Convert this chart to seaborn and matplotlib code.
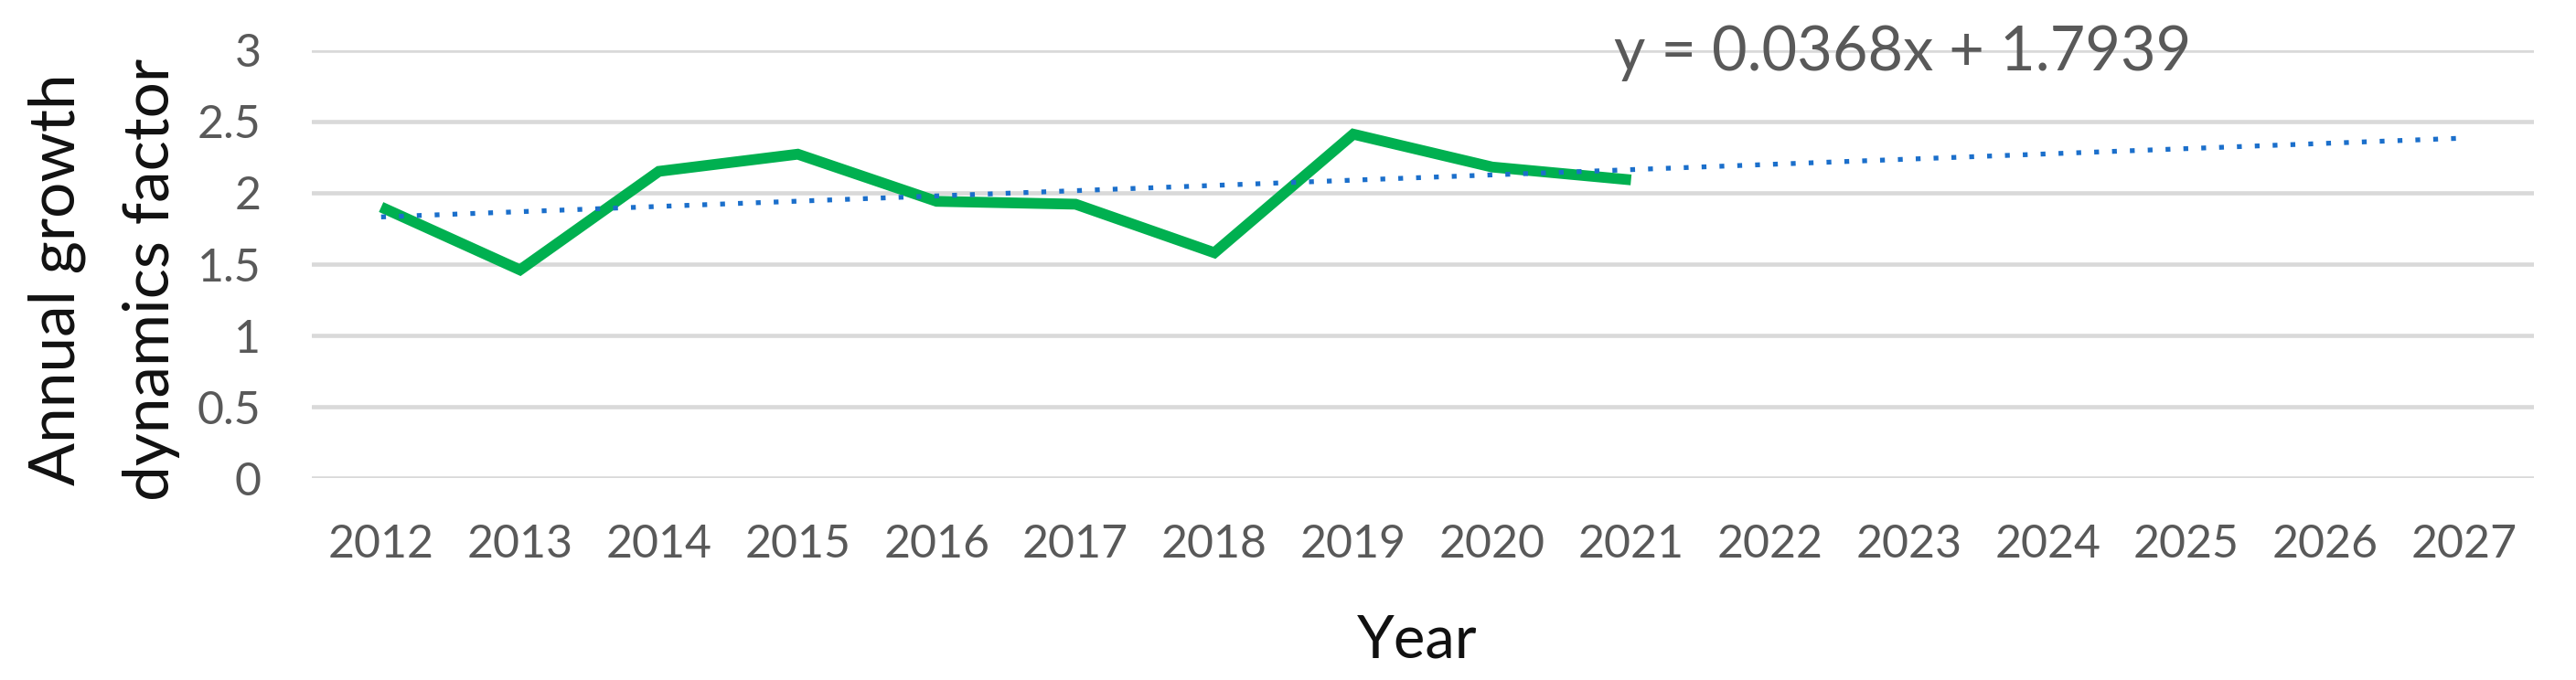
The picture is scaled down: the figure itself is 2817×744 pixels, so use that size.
import matplotlib
matplotlib.use("Agg")
import matplotlib.pyplot as plt
import numpy as np
import pandas as pd
import seaborn as sns

years_obs = [2012, 2013, 2014, 2015, 2016, 2017, 2018, 2019, 2020, 2021]
growth = [1.90, 1.46, 2.15, 2.27, 1.94, 1.92, 1.58, 2.41, 2.18, 2.09]

# linear trend shown on the chart, extended to 2027
years_all = list(range(2012, 2028))
slope = 0.0368
intercept = 1.7939
trend_label = "y = 0.0368x + 1.7939"

y_ticks = [0, 0.5, 1, 1.5, 2, 2.5, 3]
y_ticklabels = ["0", "0.5", "1", "1.5", "2", "2.5", "3"]

obs_df = pd.DataFrame({"year": years_obs, "value": growth})
trend_df = pd.DataFrame({"year": years_all})
trend_df["value"] = slope * (np.arange(len(years_all)) + 1) + intercept

sns.set_style("white")
plt.rcParams["font.family"] = ["Lato", "DejaVu Sans"]

fig = plt.figure(figsize=(28.17, 7.44), dpi=100)
ax = fig.add_axes([0.121, 0.2964, 0.8626, 0.6302])

sns.lineplot(
    data=obs_df, x="year", y="value", ax=ax, color="#00B050",
    linewidth=8.5, solid_joinstyle="miter", solid_capstyle="butt", zorder=3,
)
sns.lineplot(
    data=trend_df, x="year", y="value", ax=ax, color="#1B6FCB",
    linewidth=3.8, linestyle=(0, (1, 2.7)), dash_capstyle="butt", zorder=4,
)

ax.set_xlim(2011.5, 2027.5)
ax.set_ylim(0, 3)
ax.set_xticks(years_all)
ax.set_xticklabels([str(y) for y in years_all])
ax.set_yticks(y_ticks)
ax.set_yticklabels(y_ticklabels)
ax.yaxis.grid(True, color="#D9D9D9", linewidth=3.3)
ax.xaxis.grid(False)
ax.set_axisbelow(True)
for s in ax.spines.values():
    s.set_visible(False)

ax.tick_params(axis="x", length=0, pad=36, labelsize=36, labelcolor="#595959")
ax.tick_params(axis="y", length=0, pad=40, labelsize=36, labelcolor="#595959")

ax.set_xlabel("Year", fontsize=47, color="#111111")
ax.xaxis.set_label_coords(0.4975, -0.315)
ax.set_ylabel("Annual growth\ndynamics factor", fontsize=50, color="#111111",
              linespacing=1.8)
ax.yaxis.set_label_coords(-0.059, 0.465)

ax.text(0.586, 0.9925, trend_label, transform=ax.transAxes, fontsize=48,
        color="#595959", ha="left", va="center", zorder=5)

fig.savefig("out.png", dpi=100)
